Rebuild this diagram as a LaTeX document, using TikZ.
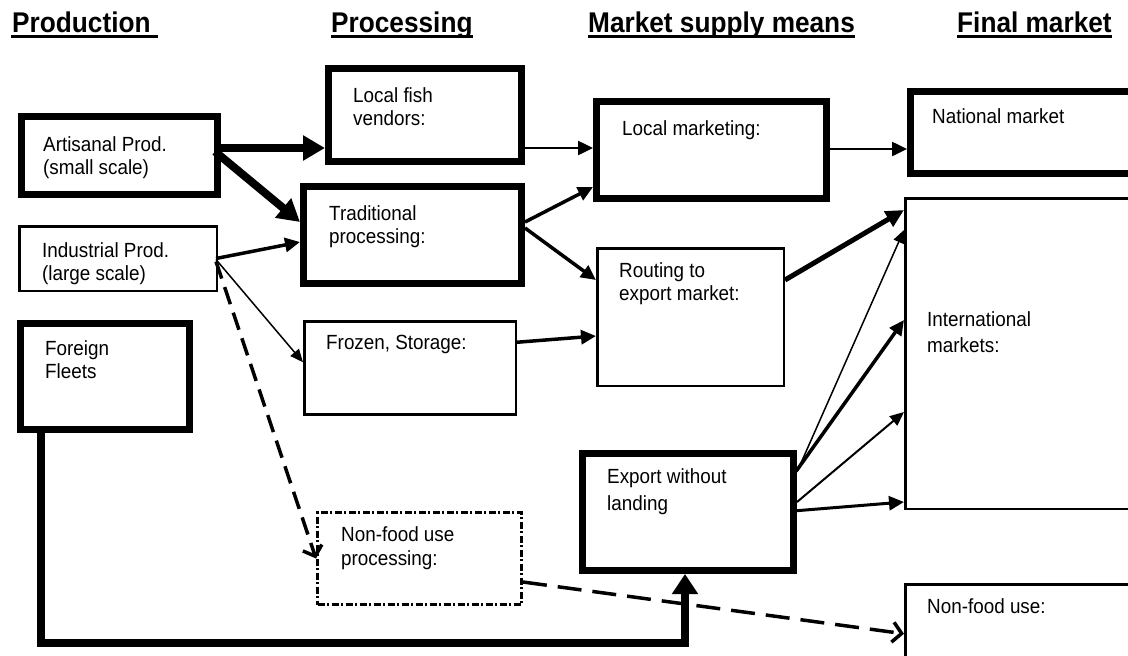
\documentclass[tikz,border=0pt]{standalone}
\usepackage{fontspec}
\setmainfont[FakeStretch=0.92]{Liberation Sans}
\usetikzlibrary{arrows.meta}
\tikzset{
  thickbox/.style={draw, line width=7pt, inner sep=0pt, anchor=north west},
  thinbox/.style={draw, line width=2.5pt, inner sep=0pt, anchor=north west},
  dotbox/.style={draw, line width=3pt, dash pattern=on 7pt off 2.5pt on 2pt off 2.5pt, inner sep=0pt, anchor=north west},
  lbl/.style={anchor=north west, inner sep=0pt, align=left, font=\fontsize{20.5}{23}\selectfont},
  hdr/.style={anchor=base west, inner sep=0pt, font=\fontsize{28.5}{32}\selectfont\bfseries},
  uline/.style={line width=3.5pt},
  bigarr/.style={line width=8pt, -{Triangle[length=22pt,width=24pt]}},
  heavyarr/.style={line width=5pt, -{Triangle[length=18pt,width=17pt]}},
  medarr/.style={line width=3.5pt, -{Triangle[length=15pt,width=14pt]}},
  normarr/.style={line width=2.5pt, -{Triangle[length=15pt,width=14pt]}},
  thinarr/.style={line width=1.5pt, -{Triangle[length=13pt,width=11pt]}},
  dasharr/.style={line width=3.5pt, dash pattern=on 18pt off 9pt, -{Straight Barb[length=9pt,width=20pt]}},
}
\begin{document}
\begin{tikzpicture}[x=1pt,y=-1pt]
\clip (0,0) rectangle (1128,656);
\fill[white] (0,0) rectangle (1128,656);

% headers
\node[hdr] (hprod) at (12,32.5) {Production};
\node[hdr] (hproc) at (331,32.5) {Processing};
\node[hdr] (hmark) at (588,32.5) {Market supply means};
\node[hdr] (hfin) at (957,32.5) {Final market};
\draw[uline] ([yshift=-4pt,xshift=-1pt]hprod.base west) -- ([yshift=-4pt,xshift=7pt]hprod.base east);
\draw[uline] ([yshift=-4pt]hproc.base west) -- ([yshift=-4pt]hproc.base east);
\draw[uline] ([yshift=-4pt]hmark.base west) -- ([yshift=-4pt]hmark.base east);
\draw[uline] ([yshift=-4pt]hfin.base west) -- ([yshift=-4pt]hfin.base east);

% boxes (outer corner, outer size minus line width)
\node[thickbox, minimum width=196pt, minimum height=78pt] (art) at (18,113) {};
\node[thinbox, minimum width=197.5pt, minimum height=64.5pt] (ind) at (18,225) {};
\node[thickbox, minimum width=169pt, minimum height=106pt] (fleet) at (17,320) {};
\node[thickbox, minimum width=193pt, minimum height=93pt] (lfv) at (325,65) {};
\node[thickbox, minimum width=218pt, minimum height=97pt] (trad) at (300,183) {};
\node[thinbox, minimum width=211.5pt, minimum height=93pt] (froz) at (303,320) {};
\node[dotbox, minimum width=204pt, minimum height=92pt] (nfp) at (316,511) {};
\node[thickbox, minimum width=230pt, minimum height=97pt] (lm) at (593,98) {};
\node[thickbox, minimum width=240pt, minimum height=82pt] (nat) at (907,88) {};
\node[thinbox, minimum width=186.5pt, minimum height=137.5pt] (rout) at (596,247) {};
\node[thinbox, minimum width=240pt, minimum height=310.5pt] (intl) at (904,197) {};
\node[thickbox, minimum width=211pt, minimum height=117pt] (exp) at (579,450) {};
\node[thinbox, minimum width=240pt, minimum height=90pt] (nfu) at (904,583) {};

% labels
\node[lbl] (tart) at (43,136.2) {Artisanal Prod.\\(small scale)};
\node[lbl] (tind) at (42,242.2) {Industrial Prod.\\(large scale)};
\node[lbl] (tfleet) at (45,340.2) {Foreign\\Fleets};
\node[lbl] (tlfv) at (353,87.2) {Local fish\\vendors:};
\node[lbl] (ttrad) at (329,205.2) {Traditional\\processing:};
\node[lbl] (tfroz) at (326,335.2) {Frozen, Storage:};
\node[lbl, font=\fontsize{20.5}{24}\selectfont] (tnfp) at (341,526.2) {Non-food use\\processing:};
\node[lbl] (tlm) at (622,120.2) {Local marketing:};
\node[lbl] (tnat) at (932,108.2) {National market};
\node[lbl] (trout) at (619,262.2) {Routing to\\export market:};
\node[lbl, font=\fontsize{20.5}{27}\selectfont] (texp) at (607,468.2) {Export without\\landing};
\node[lbl, font=\fontsize{20.5}{26}\selectfont] (tintl) at (927,311.2) {International\\markets:};
\node[lbl] (tnfu) at (927,598.2) {Non-food use:};

% connectors
\draw[bigarr] ([yshift=7.5pt]art.east) coordinate (a1) -- (a1 -| lfv.west);
\draw[bigarr] ([yshift=4pt,xshift=-6pt]art.east) -- ([yshift=13pt]trad.west);
\draw[medarr] ([xshift=-2pt]ind.east) -- ([yshift=-7pt]trad.west);
\draw[thinarr] ([xshift=-2pt,yshift=-1pt]ind.east) -- ([yshift=5.5pt]froz.west);
\draw[dasharr] ([xshift=-2pt,yshift=-3pt]ind.east) -- (nfp.west);

\draw[medarr] ([yshift=13pt]trad.east) -- ([yshift=-37pt]lm.west);
\draw[medarr] ([yshift=7pt]trad.east) -- ([yshift=37pt]rout.west);
\draw[normarr] ([yshift=-33pt]lfv.east) coordinate (a2) -- (a2 -| lm.west);
\draw[normarr] ([yshift=1pt]lm.east) coordinate (a3) -- (a3 -| nat.west);
\draw[heavyarr] ([yshift=37pt]rout.east) -- ([yshift=143.5pt]intl.west);
\draw[medarr] ([yshift=25.5pt]froz.east) -- ([yshift=-19pt]rout.west);

\draw[thinarr] ([yshift=40pt]exp.east) -- ([yshift=123.5pt]intl.west);
\draw[medarr] ([yshift=42pt]exp.east) -- ([yshift=33.5pt]intl.west);
\draw[line width=2pt, -{Triangle[length=14pt,width=12pt]}] ([yshift=10pt]exp.east) -- ([yshift=-58.5pt]intl.west);
\draw[line width=3pt, -{Triangle[length=15pt,width=14pt]}] ([xshift=-4pt,yshift=1pt]exp.east) -- ([yshift=-148.5pt]intl.west);

\coordinate (ffa) at (41,430);
\draw[line width=8pt, line cap=round, -{Triangle[length=20pt,width=25pt]}] (ffa) -- ++(0,213) -| ([xshift=-3pt]exp.south);
\draw[dasharr, dash pattern=on 24pt off 11pt] ([yshift=-23.5pt]nfp.east) -- ([yshift=-4.5pt]nfu.west);
\end{tikzpicture}
\end{document}
